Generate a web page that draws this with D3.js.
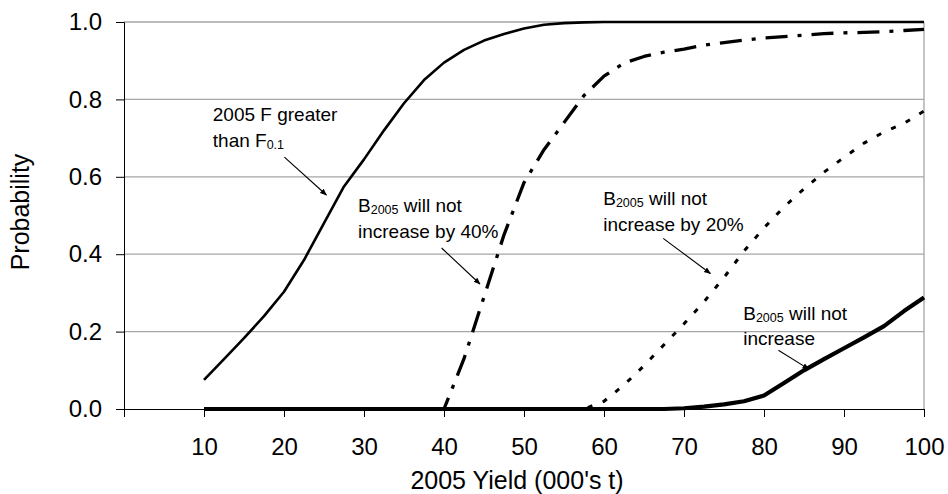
<!DOCTYPE html>
<html>
<head>
<meta charset="utf-8">
<script src="https://cdn.jsdelivr.net/npm/d3@7"></script>
<style>
  body { margin: 0; background: #fff; }
  text { font-family: Arial, "Liberation Sans", sans-serif; fill: #000; }
</style>
</head>
<body>
<div id="chart"></div>
<script>
// Values
const yields = [10, 12.5, 15, 17.5, 20, 22.5, 25, 27.5, 30, 32.5, 35, 37.5, 40, 42.5, 45, 47.5, 50,
  52.5, 55, 57.5, 60, 62.5, 65, 67.5, 70, 72.5, 75, 77.5, 80, 82.5, 85, 87.5, 90, 92.5, 95, 97.5, 100];

const probFGreater = [0.075, 0.129, 0.183, 0.24, 0.303, 0.385, 0.48, 0.575, 0.645, 0.72, 0.79, 0.85,
  0.895, 0.928, 0.952, 0.969, 0.983, 0.993, 0.997, 0.999,
  1, 1, 1, 1, 1, 1, 1, 1, 1, 1, 1, 1, 1, 1, 1, 1, 1];

const probNot40 = [0, 0, 0, 0, 0, 0, 0, 0, 0, 0, 0, 0, 0,
  0.13, 0.29, 0.45, 0.585, 0.67, 0.74, 0.81, 0.86, 0.894, 0.911, 0.922, 0.93, 0.94, 0.947,
  0.953, 0.959, 0.962, 0.966, 0.97, 0.972, 0.973, 0.975, 0.978, 0.981];

const probNot20 = [0, 0, 0, 0, 0, 0, 0, 0, 0, 0, 0, 0, 0, 0, 0, 0, 0, 0, 0, 0,
  0.02, 0.062, 0.112, 0.166, 0.22, 0.277, 0.34, 0.408, 0.468, 0.522, 0.569, 0.612, 0.65,
  0.687, 0.716, 0.738, 0.77];

const probNotIncrease = [0, 0, 0, 0, 0, 0, 0, 0, 0, 0, 0, 0, 0, 0, 0, 0, 0, 0, 0, 0, 0, 0, 0, 0,
  0.002, 0.006, 0.012, 0.02, 0.035, 0.067, 0.10, 0.129, 0.157, 0.185, 0.214, 0.253, 0.288];

const xTicks = [0, 10, 20, 30, 40, 50, 60, 70, 80, 90, 100];
const yTicks = [0, 0.2, 0.4, 0.6, 0.8, 1.0];

const width = 948, height = 494;

const svg = d3.select("#chart").append("svg")
  .attr("width", width)
  .attr("height", height);

const x = d3.scaleLinear().domain([0, 100]).range([124, 924]);
const y = d3.scaleLinear().domain([0, 1]).range([409, 22]);

// gridlines
svg.append("g")
  .selectAll("line")
  .data(yTicks.filter(d => d > 0))
  .join("line")
  .attr("x1", x(0)).attr("x2", x(100))
  .attr("y1", d => y(d)).attr("y2", d => y(d))
  .attr("stroke", "#a6a6a6")
  .attr("stroke-width", 1.3);

// right border of the plot area
svg.append("line")
  .attr("x1", x(100)).attr("x2", x(100))
  .attr("y1", y(1)).attr("y2", y(0))
  .attr("stroke", "#a6a6a6")
  .attr("stroke-width", 1.3);

// axes
const xAxis = svg.append("g")
  .attr("transform", `translate(0,${y(0)})`)
  .call(d3.axisBottom(x).tickValues(xTicks).tickSize(8).tickPadding(21)
    .tickFormat(d => d === 0 ? "" : d));

const yAxis = svg.append("g")
  .attr("transform", `translate(${x(0)},0)`)
  .call(d3.axisLeft(y).tickValues(yTicks).tickSize(8).tickPadding(14)
    .tickFormat(d3.format(".1f")));

[xAxis, yAxis].forEach(g => {
  g.select(".domain").attr("stroke", "#000").attr("stroke-width", 1);
  g.selectAll(".tick line").attr("stroke", "#000").attr("stroke-width", 1);
  g.selectAll(".tick text").attr("font-size", "24px").attr("font-family", "Arial, 'Liberation Sans', sans-serif");
});

// axis titles
svg.append("text")
  .attr("x", 517)
  .attr("y", 489)
  .attr("text-anchor", "middle")
  .attr("font-size", "25px")
  .text("2005 Yield (000's t)");

svg.append("text")
  .attr("transform", `translate(29,212) rotate(-90)`)
  .attr("text-anchor", "middle")
  .attr("font-size", "25px")
  .text("Probability");

// series
const series = [
  { values: probNot40, width: 3.3, dash: "22,10,4,10" },
  { values: probNot20, width: 3, dash: "5,11" },
  { values: probFGreater, width: 2.6, dash: null },
  { values: probNotIncrease, width: 4.2, dash: null }
];

const line = d3.line()
  .x((d, i) => x(yields[i]))
  .y(d => y(d));

svg.append("g")
  .selectAll("path")
  .data(series)
  .join("path")
  .attr("d", d => line(d.values))
  .attr("fill", "none")
  .attr("stroke", "#000")
  .attr("stroke-width", d => d.width)
  .attr("stroke-dasharray", d => d.dash)
  .attr("stroke-linejoin", "round");

// annotations
svg.append("defs").append("marker")
  .attr("id", "arrow")
  .attr("viewBox", "0 0 10 10")
  .attr("refX", 9).attr("refY", 5)
  .attr("markerWidth", 7).attr("markerHeight", 7)
  .attr("markerUnits", "userSpaceOnUse")
  .attr("orient", "auto")
  .append("path")
  .attr("d", "M0,1 L10,5 L0,9 Z")
  .attr("fill", "#000");

const annotations = [
  { at: [11.1, 0.744], lines: [[["2005 F greater", false]], [["than F", false], ["0.1", true]]],
    from: [20.05, 0.651], to: [25.3, 0.553] },
  { at: [29.25, 0.508], lines: [[["B", false], ["2005", true], [" will not", false]], [["increase by 40%", false]]],
    from: [39.7, 0.416], to: [44.5, 0.323] },
  { at: [59.9, 0.527], lines: [[["B", false], ["2005", true], [" will not", false]], [["increase by 20%", false]]],
    from: [67.4, 0.441], to: [73.3, 0.35] },
  { at: [77.4, 0.23], lines: [[["B", false], ["2005", true], [" will not", false]], [["increase", false]]],
    from: [81.8, 0.152], to: [85.6, 0.103] }
];

annotations.forEach(a => {
  const t = svg.append("text")
    .attr("x", x(a.at[0]))
    .attr("y", y(a.at[1]))
    .attr("font-size", "19px");
  a.lines.forEach((ln, li) => {
    ln.forEach((part, pi) => {
      const ts = t.append("tspan").text(part[0]);
      if (pi === 0) ts.attr("x", x(a.at[0])).attr("y", y(a.at[1]) + li * 25.5);
      if (part[1]) ts.attr("font-size", "12.5px").attr("dy", 2);
      else if (pi > 0 && ln[pi - 1][1]) ts.attr("dy", -2);
    });
  });
  svg.append("line")
    .attr("x1", x(a.from[0])).attr("y1", y(a.from[1]))
    .attr("x2", x(a.to[0])).attr("y2", y(a.to[1]))
    .attr("stroke", "#000")
    .attr("stroke-width", 1.1)
    .attr("marker-end", "url(#arrow)");
});
</script>
</body>
</html>
